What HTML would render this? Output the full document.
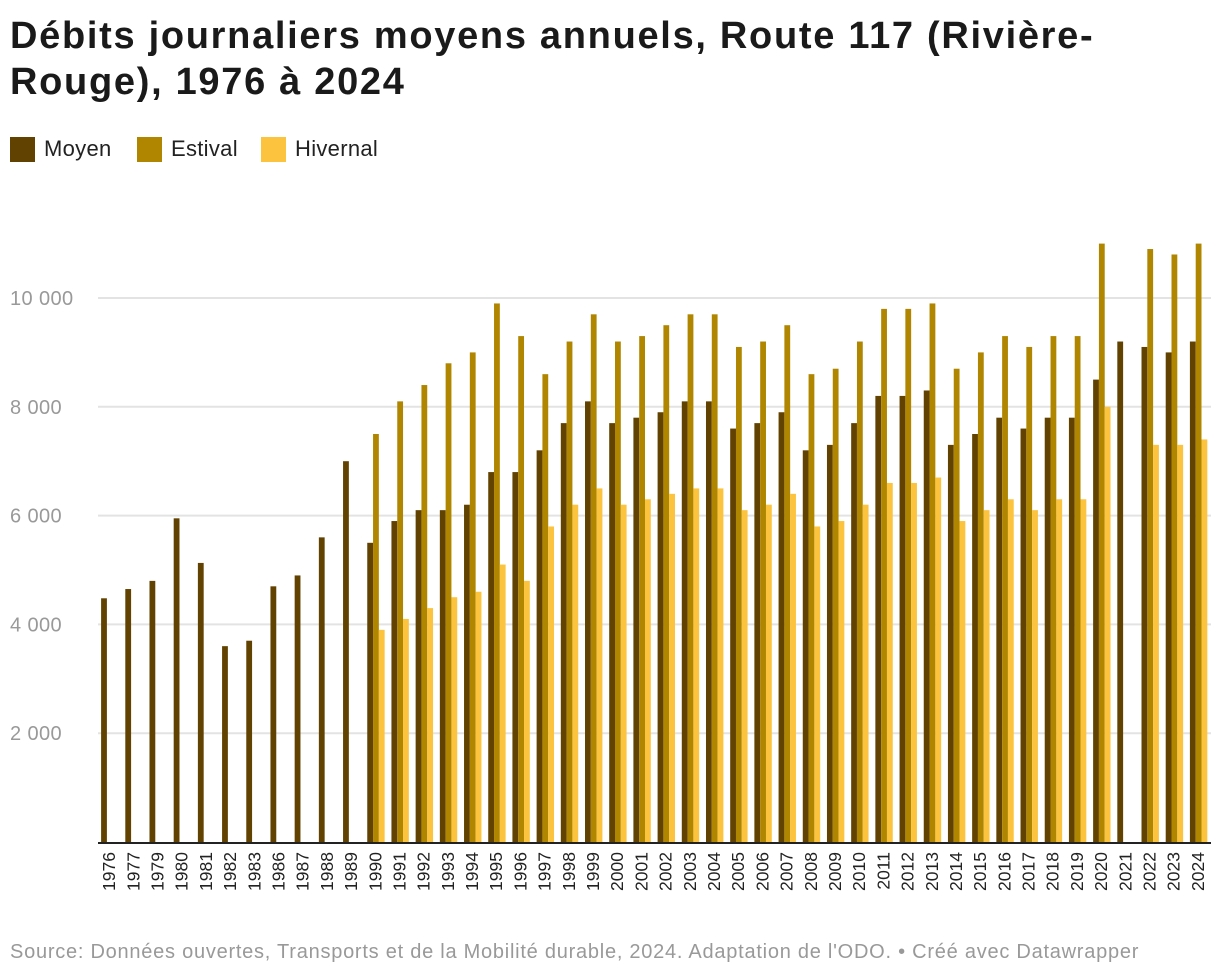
<!DOCTYPE html>
<html><head><meta charset="utf-8"><style>
body{margin:0;background:#fff;font-family:"Liberation Sans",sans-serif;}
#wrap{position:relative;width:1220px;height:980px;overflow:hidden;}
h1{position:absolute;left:10px;top:13px;margin:0;font-size:38px;line-height:46px;font-weight:bold;color:#1a1a1a;width:1210px;letter-spacing:1.7px}
.leg{position:absolute;top:136px;display:flex;align-items:center;font-size:22px;color:#222;letter-spacing:0.3px}
.sw{width:25px;height:25px;margin-right:9px}
#src{position:absolute;left:10px;top:941px;font-size:20px;color:#999;letter-spacing:0.75px}
</style></head><body><div id="wrap">
<h1>Débits journaliers moyens annuels, Route 117 (Rivière-<br>Rouge), 1976 à 2024</h1>
<div class="leg" style="left:10px"><div class="sw" style="background:#624200"></div>Moyen</div>
<div class="leg" style="left:137px"><div class="sw" style="background:#b08600"></div>Estival</div>
<div class="leg" style="left:261px"><div class="sw" style="background:#fcc43e"></div>Hivernal</div>
<svg id="svg" width="1220" height="980" style="position:absolute;left:0;top:0"></svg>
<div id="src">Source: Données ouvertes, Transports et de la Mobilité durable, 2024. Adaptation de l'ODO. • Créé avec Datawrapper</div>
</div>
<script>
const years=["1976","1977","1979","1980","1981","1982","1983","1986","1987","1988","1989","1990","1991","1992","1993","1994","1995","1996","1997","1998","1999","2000","2001","2002","2003","2004","2005","2006","2007","2008","2009","2010","2011","2012","2013","2014","2015","2016","2017","2018","2019","2020","2021","2022","2023","2024"];
const moyen=[4480,4650,4800,5950,5130,3600,3700,4700,4900,5600,7000,5500,5900,6100,6100,6200,6800,6800,7200,7700,8100,7700,7800,7900,8100,8100,7600,7700,7900,7200,7300,7700,8200,8200,8300,7300,7500,7800,7600,7800,7800,8500,9200,9100,9000,9200];
const estival=[null,null,null,null,null,null,null,null,null,null,null,7500,8100,8400,8800,9000,9900,9300,8600,9200,9700,9200,9300,9500,9700,9700,9100,9200,9500,8600,8700,9200,9800,9800,9900,8700,9000,9300,9100,9300,9300,11000,null,10900,10800,11000];
const hivernal=[null,null,null,null,null,null,null,null,null,null,null,3900,4100,4300,4500,4600,5100,4800,5800,6200,6500,6200,6300,6400,6500,6500,6100,6200,6400,5800,5900,6200,6600,6600,6700,5900,6100,6300,6100,6300,6300,8000,null,7300,7300,7400];
const yTicks=[2000,4000,6000,8000,10000];
const yTickLabels=["2 000","4 000","6 000","8 000","10 000"];
const svg=document.getElementById('svg');const NS="http://www.w3.org/2000/svg";
const x0=98,x1=1211,y0=842,yTop=298;
const band=(x1-x0)/years.length;
const y=v=>y0-(v/10000)*(y0-yTop);
const xc=i=>x0+band*(i+0.5);
function mk(t,a){const e=document.createElementNS(NS,t);for(const k in a)e.setAttribute(k,a[k]);svg.appendChild(e);return e;}
yTicks.forEach((t,i)=>{
const g=mk('line',{x1:x0,x2:x1,y1:y(t),y2:y(t),stroke:'#e3e3e3','stroke-width':2});


const l=mk('text',{x:10,y:y(t)+7,'font-size':20,fill:'#999','font-family':'Liberation Sans','letter-spacing':0.4});
l.textContent=yTickLabels[i];


});
const bw=5.8;
const series=[[moyen,'#624200',-9],[estival,'#b08600',-3.2],[hivernal,'#fcc43e',2.6]];
years.forEach((yr,i)=>{
series.forEach(([arr,col,off])=>{
const v=arr[i];if(v==null)return;
const r=mk('rect',{x:xc(i)+off,y:y(v),width:bw,height:y0-y(v),fill:col});


});
const t=mk('text',{transform:`translate(${xc(i)+5},852) rotate(-90)`,'text-anchor':'end','font-size':17.5,fill:'#222','font-family':'Liberation Sans'});
t.textContent=yr;


});
const ax=mk('line',{x1:x0,x2:x1,y1:y0+1,y2:y0+1,stroke:'#222','stroke-width':2});


</script></body></html>
